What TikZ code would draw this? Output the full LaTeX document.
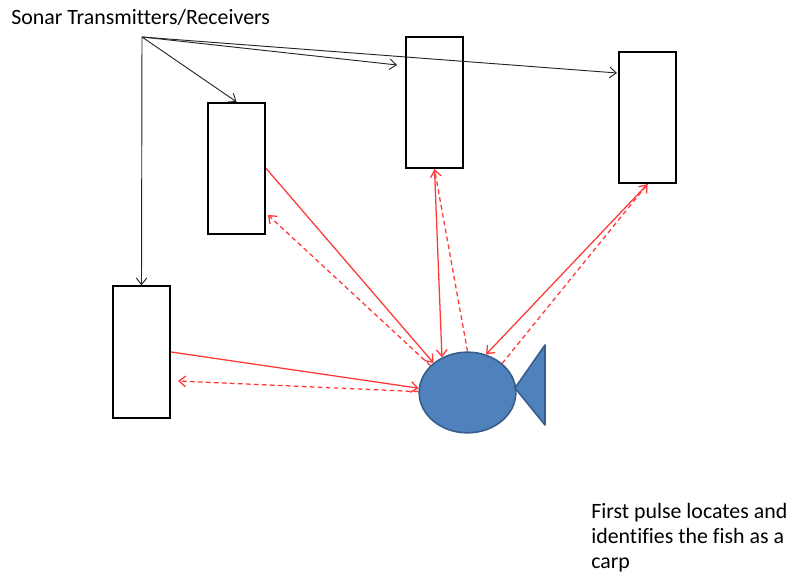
\documentclass[tikz,border=0pt]{standalone}
\usepackage{fontspec}
\setmainfont{Carlito}[Ligatures=NoCommon]
\usetikzlibrary{arrows.meta,shapes.geometric}
\definecolor{sred}{RGB}{255,55,55}
\definecolor{fishfill}{RGB}{79,129,189}
\definecolor{fishline}{RGB}{56,93,138}
\begin{document}
\begin{tikzpicture}[x=0.75pt,y=-0.75pt,
  sonarbox/.style={draw=black,line width=1.5pt,fill=white,minimum width=43pt,minimum height=98.5pt,inner sep=0pt},
  blk/.style={draw=black!85,line width=0.7pt,-{Straight Barb[length=5pt,width=8pt]}},
  rsolid/.style={draw=sred,line width=0.95pt,-{Straight Barb[length=5pt,width=8pt]}},
  rdash/.style={draw=sred,line width=0.95pt,dash pattern=on 3.5pt off 2.5pt,-{Straight Barb[length=5pt,width=8pt]}},
  lbl/.style={font=\fontsize{16.4}{18.75}\selectfont,inner sep=0pt}]
\useasboundingbox (0,0) rectangle (800,581);
% title
\node[lbl,anchor=base west] (title) at (11,25) {Sonar Transmitters/Receivers};
\coordinate (src) at (142,37);
% boxes
\node[sonarbox] (A) at (141.5,352) {};
\node[sonarbox] (B) at (236.5,168.5) {};
\node[sonarbox] (C) at (434.5,102.5) {};
\node[sonarbox] (D) at (647.5,117.5) {};
% fish
\node[ellipse,draw=fishline,fill=fishfill,line width=1.2pt,minimum width=72.5pt,minimum height=60.5pt,inner sep=0pt] (fish) at (467.5,392.5) {};
\draw[draw=fishline,fill=fishfill,line width=1.2pt,line join=round] (515,388) -- (545,345) -- (545,425) -- cycle;
% black connectors
\coordinate (cin) at (397,65);
\coordinate (din) at (617,73);
\draw[blk] (src) -- (A.north);
\draw[blk] (src) -- (B.north);
\draw[blk] (src) -- (cin);
\draw[blk] (src) -- (din);
% red connectors
\coordinate (aret) at (178,381);
\coordinate (bret) at (268,215);
\draw[rsolid] (A.east) -- (fish.175);
\draw[rdash] (fish.179) -- (aret);
\draw[rsolid] (B.east) -- (fish.139.5);
\draw[rdash] (fish.144) -- (bret);
\draw[rsolid] (C.south) -- (fish.126.5);
\draw[rdash] (fish.north) -- (C.south);
\draw[rsolid] (D.south) -- (fish.64);
\draw[rdash] (fish.40.5) -- (D.south);
% caption
\node[lbl,anchor=base west,align=left] (note) at (591,568) {First pulse locates and\\identifies the fish as a\\carp};
\end{tikzpicture}
\end{document}
